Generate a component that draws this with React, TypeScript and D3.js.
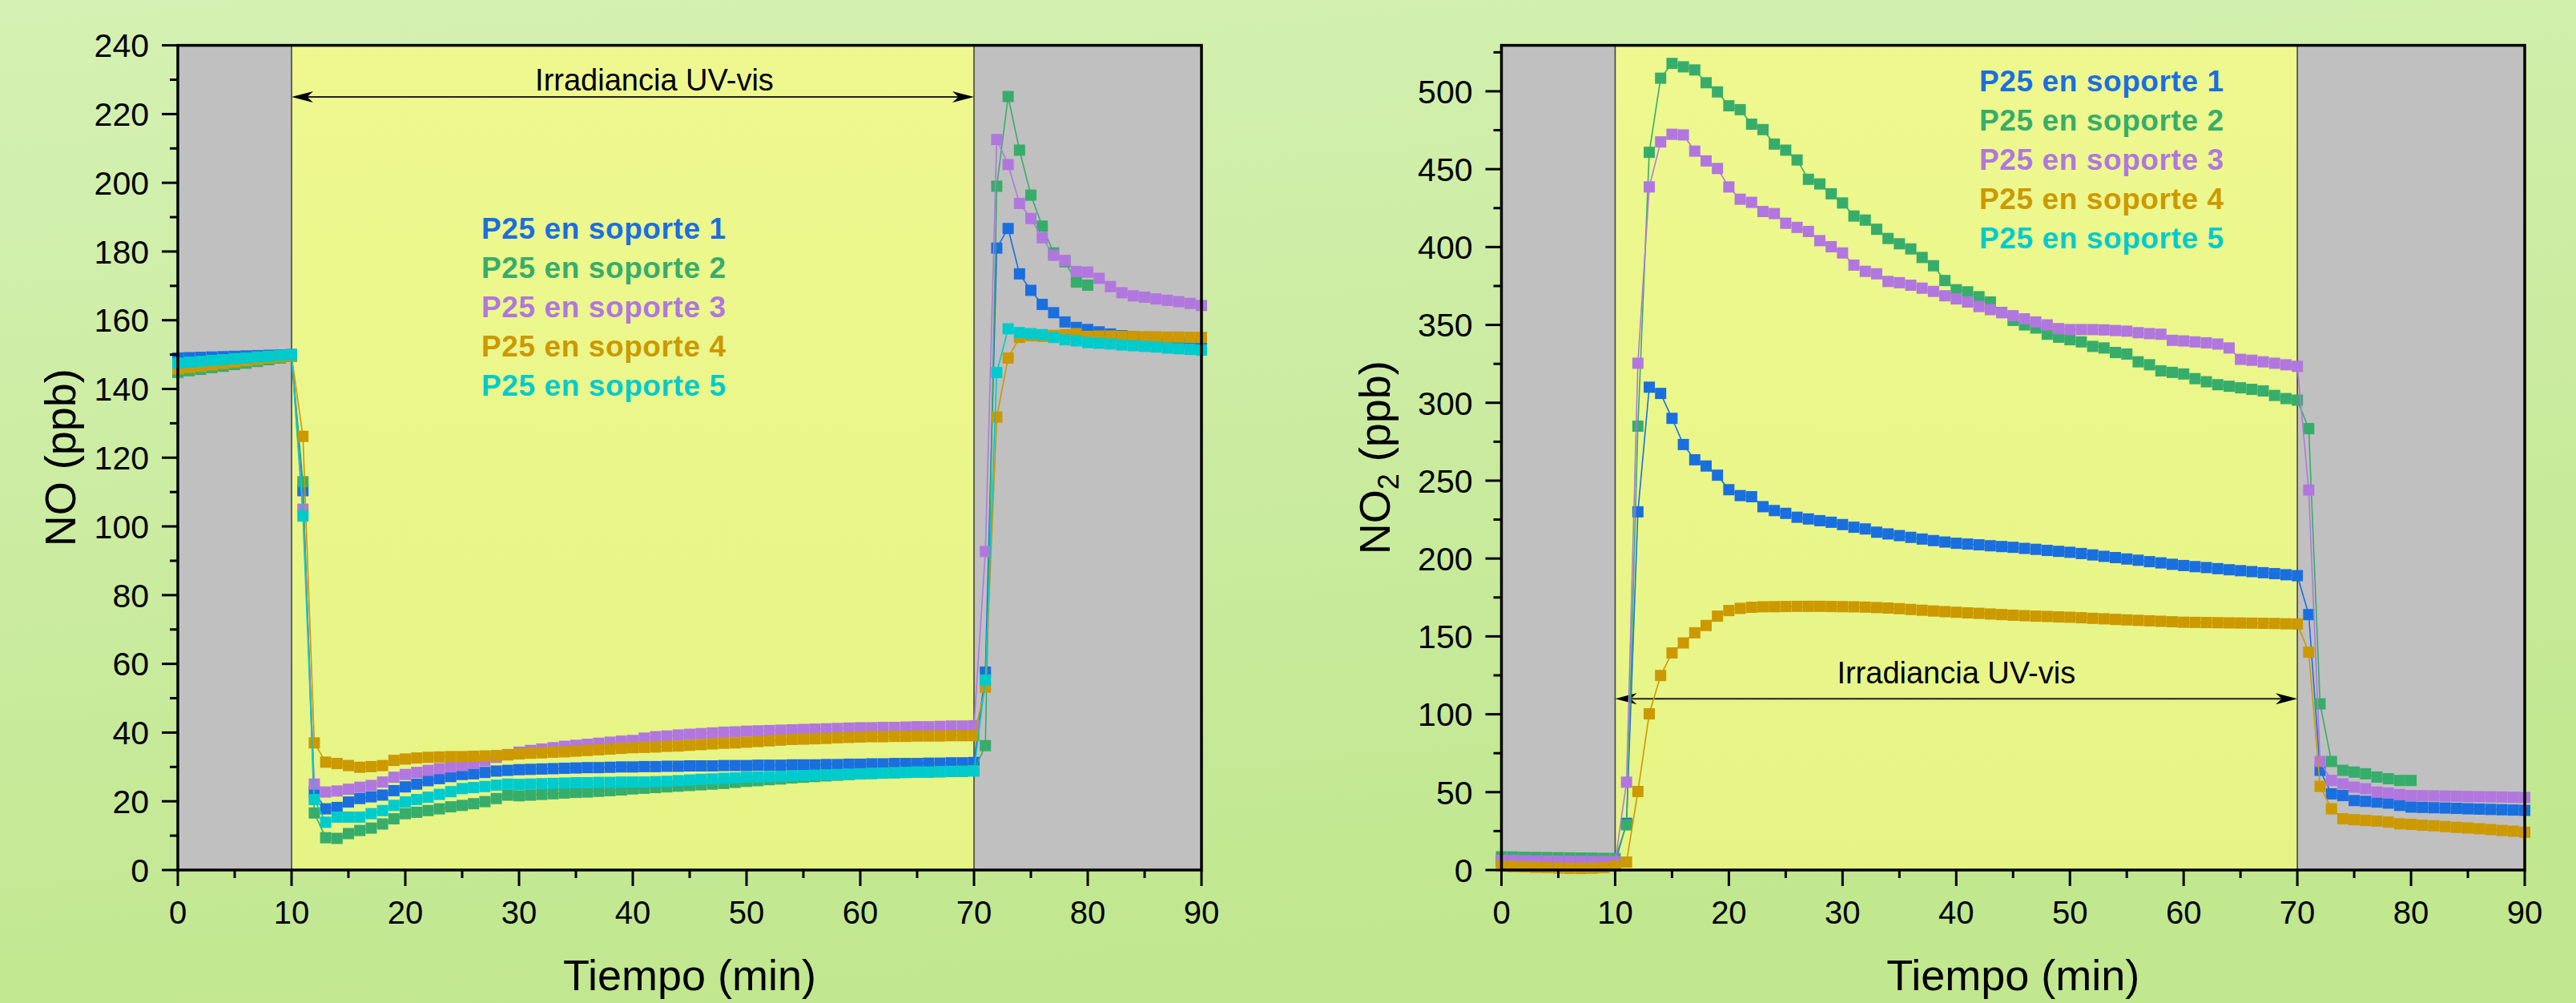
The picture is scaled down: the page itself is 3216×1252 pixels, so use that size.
import React, { useEffect } from 'react';
import * as d3 from 'd3';

// ---------- DATA ----------
const minutes: number[] = d3.range(0, 91);

const seriesNames = [
  'P25 en soporte 1',
  'P25 en soporte 2',
  'P25 en soporte 3',
  'P25 en soporte 4',
  'P25 en soporte 5',
];
const seriesColors = ['#1A6FDF', '#37AD6B', '#B177DE', '#CC9900', '#00CBCC'];

// NO (ppb), one value per minute
const noS1 = [
  149.0, 149.1, 149.2, 149.3, 149.4, 149.5, 149.6, 149.7, 149.8, 149.9, 150.0,
  110.4, 22.7, 17.8, 18.2, 19.8, 20.8, 21.3, 21.8, 23.1, 24.2,
  25.0, 26.0, 26.6, 27.2, 27.8, 28.0, 28.4, 28.8, 29.0, 29.2,
  29.3, 29.4, 29.5, 29.6, 29.7, 29.8, 29.8, 29.9, 30.0, 30.0,
  30.1, 30.1, 30.2, 30.2, 30.3, 30.3, 30.3, 30.4, 30.4, 30.4,
  30.5, 30.5, 30.5, 30.6, 30.6, 30.6, 30.7, 30.7, 30.8, 30.8,
  30.9, 30.9, 31.0, 31.0, 31.0, 31.1, 31.1, 31.2, 31.2, 31.3,
  57.6, 181.0, 186.7, 173.5, 168.7, 164.6, 162.2, 159.5, 157.9, 157.3,
  156.6, 156.0, 155.5, 155.0, 154.6, 154.2, 153.8, 153.5, 153.2, 153.0,
];
const noS2 = [
  144.8, 145.3, 145.7, 146.2, 146.6, 147.1, 147.5, 148.0, 148.5, 149.0, 149.5,
  113.0, 16.6, 9.4, 9.2, 10.6, 11.5, 12.2, 13.4, 14.9, 16.4,
  16.8, 17.3, 17.8, 18.4, 18.8, 19.3, 19.9, 20.8, 21.8, 21.6,
  21.8, 22.0, 22.2, 22.4, 22.6, 22.7, 22.9, 23.1, 23.3, 23.6,
  23.8, 24.0, 24.2, 24.4, 24.6, 24.8, 25.0, 25.2, 25.5, 25.8,
  26.0, 26.3, 26.5, 26.8, 27.0, 27.2, 27.4, 27.6, 27.8, 28.0,
  28.1, 28.2, 28.3, 28.4, 28.5, 28.5, 28.6, 28.7, 28.8, 28.9,
  36.2, 199.0, 225.1, 209.5, 196.4, 187.4, 179.6, 177.0, 171.1, 170.2,
];
const noS3 = [
  146.5, 147.0, 147.3, 147.7, 148.0, 148.4, 148.7, 149.0, 149.3, 149.6, 150.0,
  105.0, 25.0, 22.7, 23.0, 23.5, 24.1, 24.6, 25.6, 27.0, 27.8,
  28.4, 29.0, 29.5, 30.0, 30.4, 31.0, 31.8, 32.8, 33.6, 34.3,
  34.8, 35.2, 35.6, 36.0, 36.3, 36.6, 36.9, 37.2, 37.5, 37.7,
  38.4, 38.8, 39.0, 39.3, 39.5, 39.7, 39.9, 40.1, 40.2, 40.4,
  40.5, 40.6, 40.7, 40.8, 40.9, 41.0, 41.1, 41.2, 41.3, 41.4,
  41.4, 41.5, 41.5, 41.6, 41.7, 41.7, 41.8, 41.9, 41.9, 42.0,
  92.7, 212.6, 205.3, 194.0, 189.6, 184.0, 178.9, 177.4, 174.2, 174.0,
  172.2, 169.8, 168.0, 167.1, 166.7, 166.2, 165.8, 165.4, 164.9, 164.3,
];
const noS4 = [
  145.8, 146.2, 146.6, 147.0, 147.4, 147.8, 148.2, 148.6, 149.0, 149.3, 149.6,
  126.2, 37.0, 31.4, 31.0, 30.4, 29.9, 30.1, 30.4, 31.9, 32.3,
  32.6, 32.8, 32.9, 33.0, 33.0, 33.1, 33.2, 33.3, 33.5, 33.8,
  34.0, 34.1, 34.3, 34.4, 34.6, 34.8, 35.0, 35.2, 35.4, 35.6,
  35.7, 35.8, 36.0, 36.1, 36.3, 36.5, 36.7, 36.9, 37.0, 37.2,
  37.4, 37.6, 37.8, 38.0, 38.1, 38.2, 38.3, 38.5, 38.6, 38.7,
  38.8, 38.8, 38.9, 38.9, 39.0, 39.0, 39.0, 39.1, 39.1, 39.1,
  53.2, 131.8, 149.0, 155.0, 155.5, 155.3, 155.6, 155.8, 156.1, 155.3,
  155.4, 155.4, 155.3, 155.3, 155.2, 155.2, 155.1, 155.1, 155.0, 155.0,
];
const noS5 = [
  147.5, 147.8, 148.0, 148.3, 148.5, 148.8, 149.0, 149.3, 149.5, 149.8, 150.0,
  103.0, 20.5, 13.9, 15.4, 15.4, 15.4, 16.4, 17.3, 18.8, 19.8,
  20.5, 21.2, 22.0, 22.8, 23.7, 24.0, 24.3, 24.7, 25.0, 24.9,
  25.0, 25.1, 25.2, 25.3, 25.4, 25.4, 25.5, 25.5, 25.6, 25.6,
  25.6, 25.7, 25.8, 26.0, 26.2, 26.4, 26.5, 26.7, 26.8, 27.0,
  27.1, 27.2, 27.3, 27.4, 27.5, 27.6, 27.7, 27.8, 27.9, 28.0,
  28.1, 28.2, 28.3, 28.4, 28.5, 28.5, 28.6, 28.7, 28.7, 28.8,
  55.3, 144.8, 157.5, 156.4, 156.1, 155.8, 155.0, 154.3, 154.0, 153.5,
  153.3, 153.1, 152.8, 152.6, 152.4, 152.2, 151.9, 151.7, 151.5, 151.3,
];

// NO2 (ppb), one value per minute
const no2S1 = [
  5.5, 5.4, 5.3, 5.2, 5.1, 5.0, 5.0, 4.9, 4.9, 4.8, 4.8,
  30.0, 230.0, 310.0, 306.0, 290.0, 273.2, 263.4, 259.4, 253.5, 244.2,
  240.4, 239.7, 233.3, 230.8, 229.0, 226.5, 225.4, 224.3, 223.3, 221.8,
  220.1, 219.0, 216.9, 215.8, 214.7, 213.6, 212.5, 211.5, 210.6, 209.8,
  209.3, 208.8, 208.2, 207.7, 207.2, 206.5, 205.9, 205.2, 204.6, 204.0,
  203.2, 202.3, 201.4, 200.6, 199.7, 198.9, 198.0, 197.2, 196.3, 195.5,
  194.8, 194.2, 193.5, 192.8, 192.2, 191.6, 190.9, 190.3, 189.6, 189.0,
  164.0, 64.0, 48.9, 47.8, 44.6, 44.1, 43.6, 43.0, 41.5, 40.4,
  40.2, 40.0, 39.8, 39.6, 39.3, 39.1, 38.9, 38.7, 38.5, 38.3,
];
const no2S2 = [
  8.5, 8.4, 8.2, 8.1, 8.0, 7.9, 7.8, 7.7, 7.6, 7.5, 7.4,
  29.0, 285.0, 460.8, 508.4, 517.9, 515.7, 513.7, 505.5, 499.6, 490.7,
  488.2, 478.9, 475.4, 466.1, 462.2, 455.9, 443.5, 440.5, 434.2, 428.3,
  419.9, 417.3, 411.4, 405.5, 402.1, 398.8, 393.3, 388.0, 378.5, 372.6,
  371.2, 368.1, 364.7, 358.0, 352.9, 350.0, 348.0, 344.0, 342.1, 340.5,
  339.1, 336.2, 335.2, 332.3, 331.3, 326.3, 324.4, 320.5, 319.5, 318.5,
  315.5, 313.5, 311.6, 310.6, 309.6, 308.6, 307.6, 304.7, 302.7, 301.7,
  283.4, 106.7, 69.7, 64.0, 62.9, 61.8, 59.7, 58.6, 57.5, 57.5,
];
const no2S3 = [
  6.2, 6.1, 6.0, 5.9, 5.8, 5.7, 5.6, 5.6, 5.5, 5.5, 5.4,
  56.4, 325.4, 438.6, 467.5, 472.4, 472.0, 461.6, 455.3, 450.4, 438.6,
  430.7, 428.7, 422.8, 421.5, 415.3, 412.6, 410.0, 404.1, 400.2, 396.2,
  388.4, 384.4, 382.8, 377.9, 377.1, 375.5, 373.6, 371.5, 368.7, 366.7,
  364.7, 361.8, 359.8, 357.8, 355.9, 353.9, 351.9, 350.0, 347.6, 347.0,
  347.0, 347.0, 346.8, 346.4, 346.0, 345.0, 344.4, 344.0, 340.1, 339.7,
  339.1, 338.5, 337.7, 335.2, 327.9, 327.3, 326.3, 325.4, 324.4, 323.4,
  244.0, 69.7, 57.5, 55.3, 53.2, 52.2, 50.0, 49.4, 48.4, 47.8,
  47.7, 47.6, 47.5, 47.4, 47.2, 47.1, 47.0, 46.9, 46.7, 46.6,
];
const no2S4 = [
  2.5, 2.2, 2.0, 1.7, 1.5, 1.3, 1.1, 1.0, 1.2, 1.5, 2.5,
  5.1, 50.4, 100.3, 124.9, 139.4, 145.8, 152.3, 157.0, 163.0, 166.6,
  168.0, 168.7, 169.0, 169.1, 169.2, 169.3, 169.3, 169.3, 169.2, 169.1,
  169.0, 168.8, 168.5, 168.2, 167.8, 167.3, 166.8, 166.3, 165.9, 165.5,
  165.1, 164.8, 164.4, 164.0, 163.6, 163.3, 163.0, 162.8, 162.5, 162.3,
  162.0, 161.6, 161.3, 160.9, 160.6, 160.3, 160.0, 159.7, 159.4, 159.1,
  159.0, 158.9, 158.8, 158.7, 158.6, 158.5, 158.4, 158.3, 158.1, 158.0,
  139.9, 53.7, 39.3, 32.9, 32.3, 31.8, 31.4, 30.8, 29.7, 29.3,
  28.8, 28.4, 27.9, 27.4, 27.0, 26.5, 26.0, 25.4, 24.9, 24.3,
];
const no2S5: number[] = [];

const noSeries = [noS1, noS2, noS3, noS4, noS5];
const no2Series = [no2S1, no2S2, no2S3, no2S4, no2S5];

const noMajorTicks = [0, 20, 40, 60, 80, 100, 120, 140, 160, 180, 200, 220, 240];
const noMinorTicks = [10, 30, 50, 70, 90, 110, 130, 150, 170, 190, 210, 230];
const no2MajorTicks = [0, 50, 100, 150, 200, 250, 300, 350, 400, 450, 500];
const no2MinorTicks = [25, 75, 125, 175, 225, 275, 325, 375, 425, 475, 525];
const timeMajorTicks = [0, 10, 20, 30, 40, 50, 60, 70, 80, 90];
const timeMinorTicks = [5, 15, 25, 35, 45, 55, 65, 75, 85];
const darkPhases = [[0, 10], [70, 90]];
const lightPhase = [10, 70];
const annotationText = 'Irradiancia UV-vis';

// ---------- LAYOUT ----------
const W = 3216;
const H = 1252;
const FONT = '"Liberation Sans", Arial, Helvetica, sans-serif';
const TOP = 56.6;
const BOTTOM = 1086;

type PanelProps = {
  x0: number;
  x1: number;
  yMax: number;
  majors: number[];
  minors: number[];
  series: number[][];
  titleMain: string;
  titleSub?: string;
  yTitleX: number;
  arrowValue: number;
  arrowTextX: number;
  arrowTextGap: number;
  legendX: number;
  legendY: number;
  gid: string;
};

function Panel(p: PanelProps) {
  const x = d3.scaleLinear().domain([0, 90]).range([p.x0, p.x1]);
  const y = d3.scaleLinear().domain([0, p.yMax]).range([BOTTOM, TOP]);
  const line = d3
    .line<number>()
    .x((_, i) => x(minutes[i]))
    .y((d) => y(d));
  const ms = 14;
  const ay = y(p.arrowValue);
  const ax0 = x(lightPhase[0]);
  const ax1 = x(lightPhase[1]);
  const head = (tipX: number, dir: number) => {
    const L = 27;
    const Wd = 7;
    return `M${tipX},${ay} L${tipX + dir * L},${ay - Wd} L${tipX + dir * L * 0.72},${ay} L${tipX + dir * L},${ay + Wd} Z`;
  };
  const cy = (TOP + BOTTOM) / 2;
  return (
    <g>
      {/* phases */}
      {darkPhases.map(([a, b], i) => (
        <rect key={'d' + i} x={x(a)} y={TOP} width={x(b) - x(a)} height={BOTTOM - TOP} fill="#c0c0c0" />
      ))}
      <rect x={x(lightPhase[0])} y={TOP} width={x(lightPhase[1]) - x(lightPhase[0])} height={BOTTOM - TOP} fill={`url(#${p.gid})`} />
      {lightPhase.map((v, i) => (
        <line key={'v' + i} x1={x(v)} x2={x(v)} y1={TOP} y2={BOTTOM} stroke="#444" strokeWidth={1.6} />
      ))}

      {/* annotation */}
      <line x1={ax0 + 10} x2={ax1 - 10} y1={ay} y2={ay} stroke="#222" strokeWidth={2} />
      <path d={head(ax0, 1)} fill="#000" />
      <path d={head(ax1, -1)} fill="#000" />
      <text x={p.arrowTextX} y={ay - p.arrowTextGap} textAnchor="middle" fontFamily={FONT} fontSize={38} fill="#000">
        {annotationText}
      </text>

      {/* series */}
      {p.series.map((s, si) =>
        s.length ? (
          <g key={'s' + si}>
            <path d={line(s) || ''} fill="none" stroke={seriesColors[si]} strokeWidth={1.6} />
            {s.map((v, i) => (
              <rect
                key={i}
                x={x(minutes[i]) - ms / 2}
                y={y(v) - ms / 2}
                width={ms}
                height={ms}
                fill={seriesColors[si]}
              />
            ))}
          </g>
        ) : null
      )}

      {/* legend */}
      {seriesNames.map((n, i) => (
        <text
          key={'l' + i}
          x={p.legendX}
          y={p.legendY + i * 49}
          fontFamily={FONT}
          fontWeight="bold"
          fontSize={37}
          letterSpacing={0.6}
          fill={seriesColors[i]}
        >
          {n}
        </text>
      ))}

      {/* frame */}
      <rect x={p.x0} y={TOP} width={p.x1 - p.x0} height={BOTTOM - TOP} fill="none" stroke="#000" strokeWidth={3.5} />

      {/* y ticks */}
      {p.majors.map((t) => (
        <g key={'ym' + t}>
          <line x1={p.x0 - 20} x2={p.x0} y1={y(t)} y2={y(t)} stroke="#000" strokeWidth={3} />
          <text x={p.x0 - 36} y={y(t)} dy="0.36em" textAnchor="end" fontFamily={FONT} fontSize={41} fill="#000">
            {t}
          </text>
        </g>
      ))}
      {p.minors.map((t) => (
        <line key={'yn' + t} x1={p.x0 - 10} x2={p.x0} y1={y(t)} y2={y(t)} stroke="#000" strokeWidth={3} />
      ))}

      {/* x ticks */}
      {timeMajorTicks.map((t) => (
        <g key={'xm' + t}>
          <line x1={x(t)} x2={x(t)} y1={BOTTOM} y2={BOTTOM + 20} stroke="#000" strokeWidth={3} />
          <text x={x(t)} y={1153} textAnchor="middle" fontFamily={FONT} fontSize={40} fill="#000">
            {t}
          </text>
        </g>
      ))}
      {timeMinorTicks.map((t) => (
        <line key={'xn' + t} x1={x(t)} x2={x(t)} y1={BOTTOM} y2={BOTTOM + 10} stroke="#000" strokeWidth={3} />
      ))}

      {/* axis titles */}
      <text x={(p.x0 + p.x1) / 2} y={1236} textAnchor="middle" fontFamily={FONT} fontSize={54} fill="#000">
        Tiempo (min)
      </text>
      <text
        transform={`translate(${p.yTitleX},${cy}) rotate(-90)`}
        textAnchor="middle"
        fontFamily={FONT}
        fontSize={54}
        fill="#000"
      >
        {p.titleSub ? (
          <>
            <tspan>{p.titleMain}</tspan>
            <tspan dy={11} fontSize={36}>
              {p.titleSub}
            </tspan>
            <tspan dy={-11}> (ppb)</tspan>
          </>
        ) : (
          <tspan>{p.titleMain} (ppb)</tspan>
        )}
      </text>
    </g>
  );
}

export default function App() {
  useEffect(() => {
    document.body.style.margin = '0';
    document.body.style.overflow = 'hidden';
  }, []);
  const xL = d3.scaleLinear().domain([0, 90]).range([222, 1500]);
  const xR = d3.scaleLinear().domain([0, 90]).range([1874.5, 3152]);
  return (
    <svg
      width={W}
      height={H}
      viewBox={`0 0 ${W} ${H}`}
      style={{ position: 'absolute', left: 0, top: 0, display: 'block' }}
    >
      <defs>
        <linearGradient id="bg" x1="0" y1="0" x2="0.25" y2="1">
          <stop offset="0" stopColor="#d5f1b3" />
          <stop offset="1" stopColor="#c1e78f" />
        </linearGradient>
        <linearGradient id="yl1" x1="0" y1="0" x2="0" y2="1">
          <stop offset="0" stopColor="#eef88f" />
          <stop offset="1" stopColor="#e6f485" />
        </linearGradient>
        <linearGradient id="yl2" x1="0" y1="0" x2="0" y2="1">
          <stop offset="0" stopColor="#eef88f" />
          <stop offset="1" stopColor="#e6f485" />
        </linearGradient>
      </defs>
      <rect x={0} y={0} width={W} height={H} fill="url(#bg)" />
      <Panel
        x0={222}
        x1={1500}
        yMax={240}
        majors={noMajorTicks}
        minors={noMinorTicks}
        series={noSeries}
        titleMain="NO"
        yTitleX={93.5}
        arrowValue={225}
        arrowTextX={xL(41.9)}
        arrowTextGap={8}
        legendX={601}
        legendY={297.7}
        gid="yl1"
      />
      <Panel
        x0={1874.5}
        x1={3152}
        yMax={529.5}
        majors={no2MajorTicks}
        minors={no2MinorTicks}
        series={no2Series}
        titleMain="NO"
        titleSub="2"
        yTitleX={1735}
        arrowValue={110}
        arrowTextX={xR(40)}
        arrowTextGap={19}
        legendX={2471}
        legendY={114}
        gid="yl2"
      />
    </svg>
  );
}
